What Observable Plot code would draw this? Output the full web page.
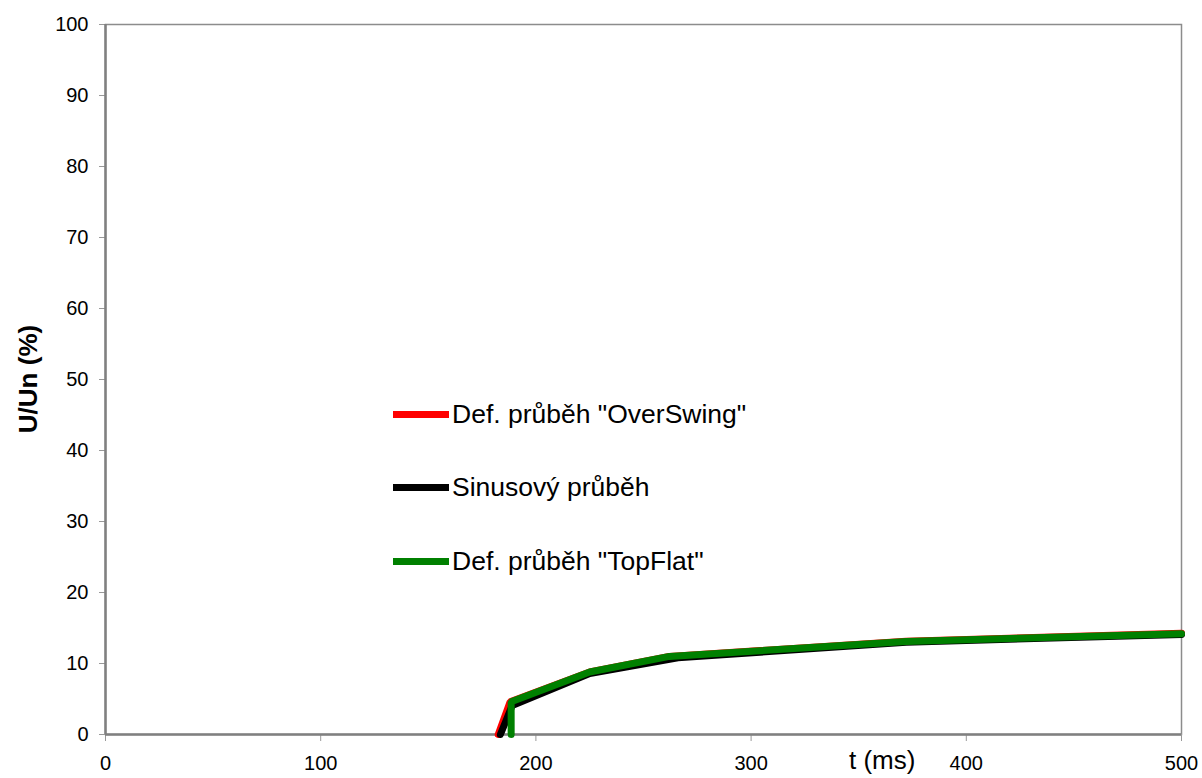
<!DOCTYPE html>
<html>
<head>
<meta charset="utf-8">
<script src="https://cdn.jsdelivr.net/npm/d3@7"></script>
<script src="https://cdn.jsdelivr.net/npm/@observablehq/plot@0.6"></script>
<style>
  html, body { margin: 0; padding: 0; background: #fff; }
  #wrap { position: relative; width: 1202px; height: 778px; font-family: "Liberation Sans", Arial, sans-serif; }
  .item { position: absolute; left: 393px; display: flex; align-items: center; height: 36px; font-size: 26.5px; color: #000; white-space: nowrap; }
  .item .sw { width: 56px; height: 7px; margin-right: 3px; }
  #xlabel { position: absolute; left: 849px; top: 745px; font-size: 26px; line-height: 30px; }
</style>
</head>
<body>
<div id="wrap"></div>
<script>
// Series names
const seriesNames = ["Def. průběh \"OverSwing\"", "Sinusový průběh", "Def. průběh \"TopFlat\""];
const seriesColors = ["#ff0000", "#000000", "#008000"];

// t (ms) values and U/Un (%) values per series
const overSwingT = [182.5, 188, 225, 262, 372, 500];
const overSwingU = [0, 4.6, 8.8, 11.0, 13.15, 14.25];

const sinusT = [183.5, 189, 225, 266, 372, 500];
const sinusU = [0, 4.1, 8.6, 10.8, 13.0, 14.1];

const topFlatT = [188.5, 188.5, 225, 262, 372, 500];
const topFlatU = [0, 4.6, 8.8, 11.0, 13.1, 14.2];

const xTicks = [0, 100, 200, 300, 400, 500];
const yTicks = [0, 10, 20, 30, 40, 50, 60, 70, 80, 90, 100];

const toRows = (ts, us, s) => ts.map((t, i) => ({t, u: us[i], s}));
const rows = [
  ...toRows(overSwingT, overSwingU, seriesNames[0]),
  ...toRows(sinusT, sinusU, seriesNames[1]),
  ...toRows(topFlatT, topFlatU, seriesNames[2])
];

const plot = Plot.plot({
  width: 1202,
  height: 778,
  marginLeft: 105,
  marginRight: 21,
  marginTop: 24,
  marginBottom: 44,
  style: {fontFamily: "'Liberation Sans', Arial, sans-serif", fontSize: "20px", color: "#000", background: "#fff"},
  x: {domain: [0, 500]},
  y: {domain: [0, 100]},
  color: {domain: seriesNames, range: seriesColors},
  marks: [
    Plot.frame({stroke: "#8c8c8c", strokeWidth: 1.5}),
    Plot.axisX({ticks: xTicks, tickSize: 7, tickPadding: 14, stroke: "#999", label: null, tickFormat: d => String(d), fontSize: 20}),
    Plot.axisY({ticks: yTicks, tickSize: 6, tickPadding: 11, stroke: "#999", label: null, tickFormat: d => String(d), fontSize: 20}),
    Plot.ruleX([0], {stroke: "#808080", strokeWidth: 2.5}),
    Plot.ruleY([0], {stroke: "#808080", strokeWidth: 2.5}),
    Plot.line(rows, {x: "t", y: "u", z: "s", stroke: "s", strokeWidth: 7, strokeLinejoin: "miter"})
  ]
});

const wrap = document.getElementById("wrap");
wrap.appendChild(plot);

// y axis title
const svg = d3.select(plot);
svg.append("text")
  .attr("transform", "translate(37,379) rotate(-90)")
  .attr("text-anchor", "middle")
  .attr("font-size", 26)
  .attr("font-weight", "bold")
  .attr("fill", "#000")
  .text("U/Un (%)");

// x axis title
const xl = document.createElement("div");
xl.id = "xlabel";
xl.textContent = "t (ms)";
wrap.appendChild(xl);

// legend
seriesNames.forEach((n, i) => {
  const it = document.createElement("div");
  it.className = "item";
  it.style.top = (396 + i * 73.5) + "px";
  const sw = document.createElement("div");
  sw.className = "sw";
  sw.style.background = seriesColors[i];
  const tx = document.createElement("span");
  tx.textContent = n;
  it.appendChild(sw);
  it.appendChild(tx);
  wrap.appendChild(it);
});
</script>
</body>
</html>
